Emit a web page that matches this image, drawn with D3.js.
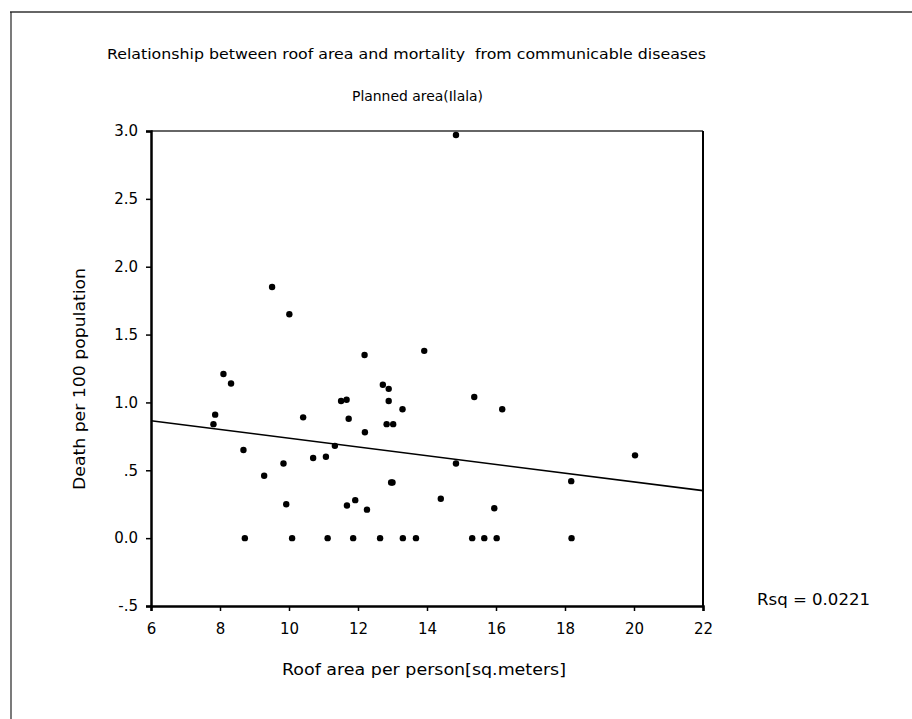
<!DOCTYPE html>
<html>
<head>
<meta charset="utf-8">
<script src="https://cdn.jsdelivr.net/npm/d3@7"></script>
<style>
  body { margin: 0; background: #fff; }
  text { font-family: "DejaVu Sans", sans-serif; fill: #000; white-space: pre; }
</style>
</head>
<body>
<div id="chart"></div>
<script>
// roof area per person (sq. meters) and deaths per 100 population
const roofArea = [7.81, 7.86, 8.10, 8.32, 8.68, 8.72, 9.28, 9.51, 9.84, 9.92,
  10.01, 10.09, 10.41, 10.70, 11.07, 11.12, 11.33, 11.51, 11.67, 11.68,
  11.73, 11.86, 11.92, 12.19, 12.20, 12.26, 12.64, 12.72, 12.89, 12.89,
  12.83, 13.02, 12.96, 13.00, 13.29, 13.30, 13.68, 13.92, 14.40, 14.84,
  14.84, 15.31, 15.37, 15.66, 15.95, 16.02, 16.18, 18.18, 18.19, 20.03];
const deaths = [0.84, 0.91, 1.21, 1.14, 0.65, 0.00, 0.46, 1.85, 0.55, 0.25,
  1.65, 0.00, 0.89, 0.59, 0.60, 0.00, 0.68, 1.01, 1.02, 0.24,
  0.88, 0.00, 0.28, 1.35, 0.78, 0.21, 0.00, 1.13, 1.10, 1.01,
  0.84, 0.84, 0.41, 0.41, 0.95, 0.00, 0.00, 1.38, 0.29, 0.55,
  2.97, 0.00, 1.04, 0.00, 0.22, 0.00, 0.95, 0.42, 0.00, 0.61];

// fitted line end points
const fitX = [6, 22];
const fitY = [0.865, 0.35];

const xTicks = [6, 8, 10, 12, 14, 16, 18, 20, 22];
const yTicks = [3.0, 2.5, 2.0, 1.5, 1.0, 0.5, 0.0, -0.5];
const yTickLabels = ["3.0", "2.5", "2.0", "1.5", "1.0", ".5", "0.0", "-.5"];

const svg = d3.select("#chart")
  .append("svg")
    .attr("width", 912)
    .attr("height", 719);

// outer frame of the scanned page
svg.append("line")
  .attr("x1", 10).attr("y1", 12).attr("x2", 912).attr("y2", 12)
  .attr("stroke", "#333").attr("stroke-width", 1.5);
svg.append("line")
  .attr("x1", 11).attr("y1", 12).attr("x2", 11).attr("y2", 719)
  .attr("stroke", "#222").attr("stroke-width", 1.2);

const x = d3.scaleLinear().domain([6, 22]).range([151, 703]);
const y = d3.scaleLinear().domain([-0.5, 3.0]).range([606, 131]);

// plot box: top and right
svg.append("line")
  .attr("x1", x(6)).attr("y1", y(3)).attr("x2", x(22)).attr("y2", y(3))
  .attr("stroke", "#333").attr("stroke-width", 1.5);
svg.append("line")
  .attr("x1", x(22)).attr("y1", y(3)).attr("x2", x(22)).attr("y2", y(-0.5))
  .attr("stroke", "#000").attr("stroke-width", 2);

const yAxis = svg.append("g")
  .attr("transform", `translate(${x(6)},0)`)
  .call(d3.axisLeft(y).tickValues(yTicks)
    .tickFormat((d, i) => yTickLabels[i]).tickSize(5).tickPadding(8));
yAxis.select(".domain").attr("stroke", "#000").attr("stroke-width", 2.5);
yAxis.selectAll(".tick line").attr("stroke", "#000").attr("stroke-width", 1.5);
yAxis.selectAll(".tick text")
  .attr("font-family", "DejaVu Sans").attr("font-size", 15).attr("fill", "#000");

const xAxis = svg.append("g")
  .attr("transform", `translate(0,${y(-0.5)})`)
  .call(d3.axisBottom(x).tickValues(xTicks).tickFormat(d3.format("d"))
    .tickSize(5).tickPadding(12));
xAxis.select(".domain").attr("stroke", "#000").attr("stroke-width", 2.5);
xAxis.selectAll(".tick line").attr("stroke", "#000").attr("stroke-width", 1.5);
xAxis.selectAll(".tick text")
  .attr("font-family", "DejaVu Sans").attr("font-size", 15).attr("fill", "#000");

// regression line
svg.append("line")
  .attr("x1", x(fitX[0])).attr("y1", y(fitY[0]))
  .attr("x2", x(fitX[1])).attr("y2", y(fitY[1]))
  .attr("stroke", "#000").attr("stroke-width", 1.6);

// points
svg.append("g")
  .selectAll("circle")
  .data(roofArea.map((d, i) => ({ area: d, death: deaths[i] })))
  .enter()
  .append("circle")
    .attr("cx", (d) => x(d.area))
    .attr("cy", (d) => y(d.death))
    .attr("r", 3.2)
    .attr("fill", "#000");

// titles and labels
svg.append("text")
  .attr("x", 107).attr("y", 59)
  .attr("font-size", 14)
  .attr("textLength", 599).attr("lengthAdjust", "spacingAndGlyphs")
  .text("Relationship between roof area and mortality  from communicable diseases");

svg.append("text")
  .attr("x", 352).attr("y", 101)
  .attr("font-size", 14)
  .attr("textLength", 131).attr("lengthAdjust", "spacingAndGlyphs")
  .text("Planned area(Ilala)");

svg.append("text")
  .attr("transform", "translate(85,490) rotate(-90)")
  .attr("font-size", 16)
  .attr("textLength", 222).attr("lengthAdjust", "spacingAndGlyphs")
  .text("Death per 100 population");

svg.append("text")
  .attr("x", 282).attr("y", 675)
  .attr("font-size", 16)
  .attr("textLength", 284).attr("lengthAdjust", "spacingAndGlyphs")
  .text("Roof area per person[sq.meters]");

svg.append("text")
  .attr("x", 757).attr("y", 605)
  .attr("font-size", 16)
  .attr("textLength", 113).attr("lengthAdjust", "spacingAndGlyphs")
  .text("Rsq = 0.0221");
</script>
</body>
</html>
